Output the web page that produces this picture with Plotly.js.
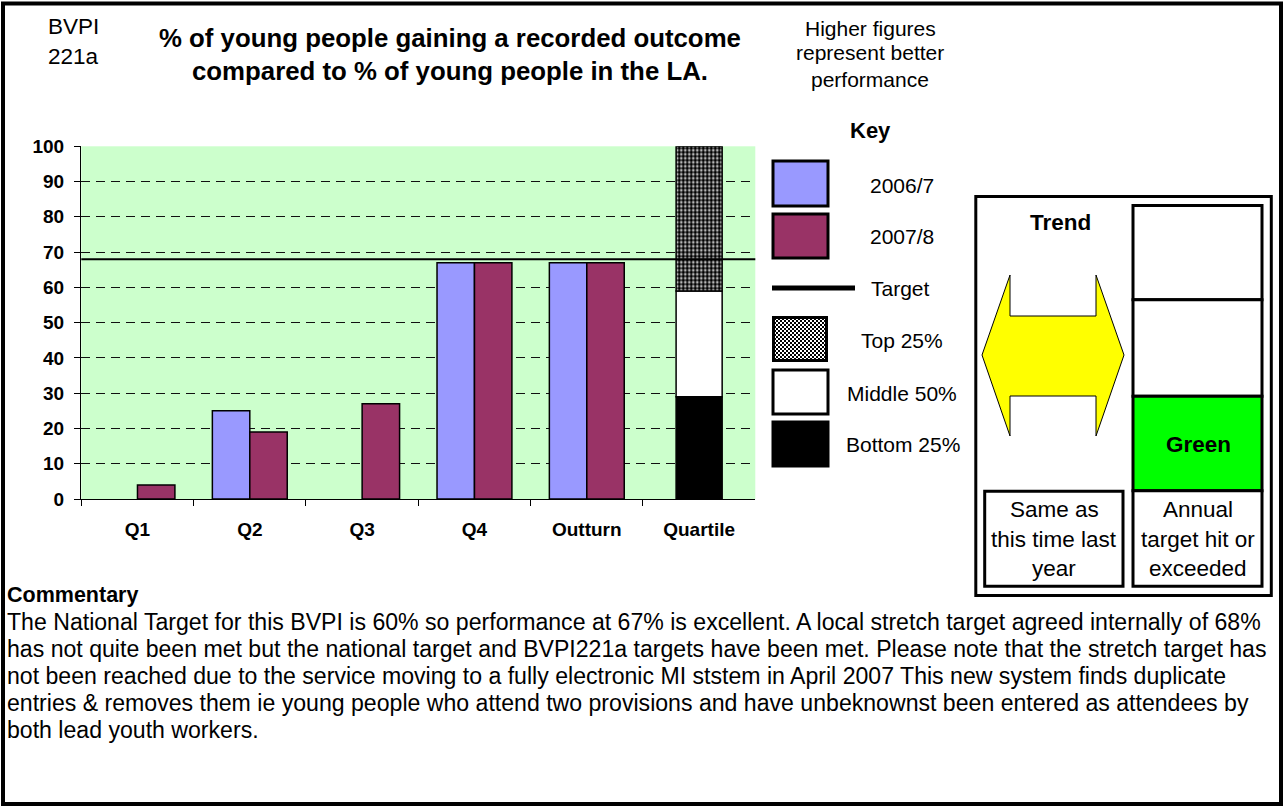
<!DOCTYPE html>
<html>
<head>
<meta charset="utf-8">
<script src="https://cdn.plot.ly/plotly-3.0.1.min.js"></script>
<style>
  html, body { margin: 0; padding: 0; background: #fff; }
  #chart { width: 1284px; height: 809px; }
</style>
</head>
<body>
<div id="chart"></div>
<script>
// ---- data ----
const categories = ['Q1', 'Q2', 'Q3', 'Q4', 'Outturn', 'Quartile'];
const series2006 = [null, 25, null, 67, 67, null];
const series2007 = [4, 19, 27, 67, 67, null];
const target = 68;
const quartileNames = ['Bottom 25%', 'Middle 50%', 'Top 25%'];
const quartileUpper = [29, 59, 100];
const seriesNames = ['2006/7', '2007/8'];
const commentaryLines = [
  'The National Target for this BVPI is 60% so performance at 67% is excellent. A local stretch target agreed internally of 68%',
  'has not quite been met but the national target and BVPI221a targets have been met. Please note that the stretch target has',
  'not been reached due to the service moving to a fully electronic MI ststem in April 2007 This new system finds duplicate',
  'entries &amp; removes them ie young people who attend two provisions and have unbeknownst been entered as attendees by',
  'both lead youth workers.'
];

// ---- helpers ----
const W = 1284, H = 809;
const X = p => p / W;
const Y = p => 1 - p / H;
const FONT = 'Liberation Sans, Arial, Helvetica, sans-serif';
const C2006 = '#9999FF', C2007 = '#993366';

function ann(text, x, y, size, opts) {
  return Object.assign({
    text: text, xref: 'paper', yref: 'paper', x: X(x), y: Y(y),
    xanchor: 'center', yanchor: 'middle', showarrow: false,
    font: { family: FONT, size: size, color: '#000' }
  }, opts || {});
}
function rect(x0, y0, x1, y1, fill, lw) {
  return { type: 'rect', xref: 'paper', yref: 'paper',
    x0: X(x0), x1: X(x1), y0: Y(y0), y1: Y(y1),
    fillcolor: fill, line: { color: '#000', width: lw } };
}

// ---- traces ----
const barLine = { color: '#000', width: 1.5 };
const traces = [
  { type: 'bar', name: seriesNames[0], x: categories, y: series2006,
    offset: -1/3, width: 1/3, marker: { color: C2006, line: barLine } },
  { type: 'bar', name: seriesNames[1], x: categories, y: series2007,
    offset: 0, width: 1/3, marker: { color: C2007, line: barLine } }
];
const qColors = ['#000000', '#FFFFFF', '#FFFFFF'];
let base = 0;
quartileUpper.forEach((u, i) => {
  const t = { type: 'bar', name: quartileNames[i], x: [categories[5]], y: [u - base], base: [base],
    width: 0.41, marker: { color: qColors[i], line: barLine } };
  if (i === 2) t.marker.pattern = { shape: '.', fgcolor: '#000', bgcolor: '#fff', size: 4, solidity: 0.7 };
  traces.push(t);
  base = u;
});

// ---- key checker image ----
const svg = "<svg xmlns='http://www.w3.org/2000/svg' width='56' height='46'>" +
  "<defs><pattern id='p' width='4' height='4' patternUnits='userSpaceOnUse'>" +
  "<rect width='4' height='4' fill='white'/><rect width='2' height='2' fill='black'/>" +
  "<rect x='2' y='2' width='2' height='2' fill='black'/></pattern></defs>" +
  "<rect x='1.5' y='1.5' width='53' height='43' fill='url(#p)' stroke='black' stroke-width='3'/></svg>";
const svgUri = 'data:image/svg+xml;charset=utf-8,' + encodeURIComponent(svg);

// ---- shapes ----
const shapes = [
  // page border
  { type: 'rect', xref: 'paper', yref: 'paper', x0: X(3), x1: X(1281), y0: Y(3.5), y1: Y(804),
    line: { color: '#000', width: 4 } },
  // target line
  { type: 'line', xref: 'x domain', x0: 0, x1: 1, yref: 'y', y0: target, y1: target,
    line: { color: '#000', width: 2 } },
  // key
  rect(773, 161, 828, 206, C2006, 3),
  rect(773, 214, 828, 258, C2007, 3),
  { type: 'line', xref: 'paper', yref: 'paper', x0: X(772), x1: X(855), y0: Y(288), y1: Y(288),
    line: { color: '#000', width: 5 } },
  rect(773, 370, 828, 414, '#FFFFFF', 3),
  rect(773, 422, 828, 466, '#000000', 3),
  // trend panel
  rect(975.8, 196.5, 1271.3, 595.5, 'rgba(0,0,0,0)', 3),
  rect(1133, 205.5, 1262, 299.7, '#FFFFFF', 3),
  rect(1133, 299.7, 1262, 396.3, '#FFFFFF', 3),
  rect(1133, 396.3, 1262, 490.7, '#00FF00', 3),
  rect(1133, 490.7, 1262, 586.3, '#FFFFFF', 3),
  rect(984.7, 491.3, 1123, 586.3, '#FFFFFF', 3)
];
// double arrow
const arrowPts = [[982,355],[1010,275],[1010,316],[1096,316],[1096,275],[1124,355],
                  [1096,436],[1096,396],[1010,396],[1010,436]];
shapes.push({ type: 'path', xref: 'paper', yref: 'paper',
  path: 'M ' + arrowPts.map(p => X(p[0]) + ',' + Y(p[1])).join(' L ') + ' Z',
  fillcolor: '#FFFF00', line: { color: '#000', width: 1 } });

// ---- annotations ----
const annotations = [
  ann('BVPI', 46, 27, 22.5, { xanchor: 'left' }),
  ann('221a', 46, 57, 22.5, { xanchor: 'left' }),
  ann('<b>% of young people gaining a recorded outcome</b>', 450, 38, 25.8),
  ann('<b>compared to % of young people in the LA.</b>', 450, 71, 25.8),
  ann('Higher figures', 870, 28, 21),
  ann('represent better', 870, 53, 21),
  ann('performance', 870, 79, 21),
  ann('<b>Key</b>', 870, 131, 22),
  ann(seriesNames[0], 902, 185, 21),
  ann(seriesNames[1], 902, 236, 21),
  ann('Target', 869, 288, 21, { xanchor: 'left' }),
  ann(quartileNames[2], 902, 340, 21),
  ann(quartileNames[1], 902, 393, 21),
  ann(quartileNames[0], 903, 444, 21),
  ann('<b>Trend</b>', 1060, 222, 22.5),
  ann('<b>Green</b>', 1198, 444, 22.5),
  ann('Same as', 1054, 510, 22.5),
  ann('this time last', 1054, 539, 22.5),
  ann('year', 1054, 568, 22.5),
  ann('Annual', 1198, 510, 22.5),
  ann('target hit or', 1198, 539, 22.5),
  ann('exceeded', 1198, 568, 22.5),
  ann('<b>Commentary</b>', 5, 595, 21.5, { xanchor: 'left' })
];
commentaryLines.forEach((t, i) => {
  annotations.push(ann(t, 5, 622 + i * 27, 23.1, { xanchor: 'left' }));
});

const layout = {
  width: W, height: H,
  margin: { l: 0, r: 0, t: 0, b: 0, pad: 0 },
  paper_bgcolor: '#FFFFFF',
  plot_bgcolor: '#CCFFCC',
  showlegend: false,
  barmode: 'overlay',
  font: { family: FONT, color: '#000' },
  xaxis: {
    domain: [X(81.3), X(755.3)],
    type: 'category', categoryorder: 'array', categoryarray: categories,
    range: [-0.5, 5.5],
    tickson: 'boundaries', ticks: 'outside', ticklen: 6, tickcolor: '#000', tickwidth: 1,
    showline: true, linecolor: '#000', linewidth: 1.3,
    showgrid: false, zeroline: false,
    tickfont: { family: FONT, size: 19, weight: 700, color: '#000' },
    ticklabelstandoff: 13,
    fixedrange: true
  },
  yaxis: {
    domain: [Y(499), Y(146.3)],
    range: [0, 100], tick0: 0, dtick: 10,
    ticks: 'outside', ticklen: 6, tickcolor: '#000', tickwidth: 1,
    showline: true, linecolor: '#000', linewidth: 1.3,
    showgrid: true, gridcolor: '#111', gridwidth: 1, griddash: '9px,6px',
    zeroline: false,
    tickfont: { family: FONT, size: 19, weight: 700, color: '#000' },
    ticklabelstandoff: 6,
    fixedrange: true
  },
  shapes: shapes,
  annotations: annotations,
  images: [{ source: svgUri, xref: 'paper', yref: 'paper',
    x: X(772), y: Y(316), sizex: X(828) - X(772), sizey: Y(316) - Y(362),
    xanchor: 'left', yanchor: 'top', sizing: 'stretch', layer: 'above' }]
};

Plotly.newPlot('chart', traces, layout, { displayModeBar: false, staticPlot: true });
</script>
</body>
</html>
